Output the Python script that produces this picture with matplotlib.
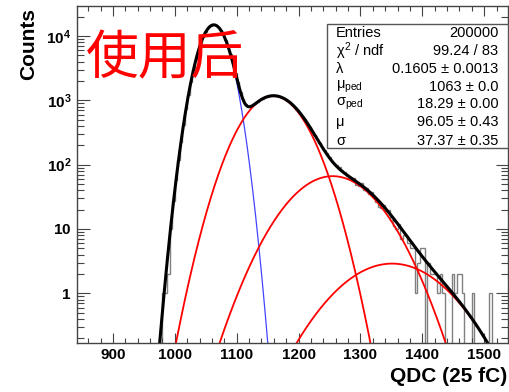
import numpy as np
import matplotlib
matplotlib.use('Agg')
import matplotlib.pyplot as plt
from math import factorial
from matplotlib.ticker import FixedLocator, FuncFormatter, LogLocator, NullFormatter

plt.rcParams['font.family'] = ['Liberation Sans', 'DejaVu Sans']
plt.rcParams['mathtext.fontset'] = 'custom'
plt.rcParams['mathtext.rm'] = 'Liberation Sans'
plt.rcParams['mathtext.it'] = 'Liberation Sans'
plt.rcParams['mathtext.bf'] = 'Liberation Sans:bold'

# fit parameters from the stats box
entries = 200000
lam = 0.1605
mu_ped = 1063.0
sig_ped = 18.29
mu = 96.05
sig = 37.37

# histogram: 4-channel bins starting at 980
bin_w = 4.0
hist_lo = 980.0
counts = [
    1, 1, 2, 10, 27, 57, 116, 224, 411, 721,
    1206, 1923, 2922, 4233, 5846, 7697, 9661, 11561, 13190, 14347,
    14880, 14716, 13881, 12491, 10729, 8804, 6914, 5211, 3791, 2690,
    1895, 1365, 1042, 871, 803, 799, 832, 885, 945, 1005,
    1060, 1107, 1143, 1168, 1179, 1178, 1164, 1137, 1098, 1050,
    992, 928, 860, 788, 715, 643, 574, 507, 445, 389,
    337, 292, 252, 218, 189, 170, 151, 130, 109, 104,
    97, 91, 84, 78, 66, 63, 60, 61, 48, 46,
    52, 41, 43, 35, 37, 33, 26, 22, 21, 24,
    19, 20, 14, 11, 10, 12, 7, 8, 8, 6,
    5, 5, 1, 3, 5, 5, 0, 3, 2, 2,
    2, 1, 2, 1, 0, 0, 0, 2, 1, 2,
    2, 1, 0, 0, 0, 1, 0, 0, 0, 0,
    0, 0, 1,
]

stat_names = ['Entries', r'$\chi^{2}$ / ndf', 'λ', r'$\mu_{\rm ped}$', r'$\sigma_{\rm ped}$', 'μ', 'σ']
stat_vals = ['200000', '99.24 / 83', '0.1605 ± 0.0013', '1063 ± 0.0', '18.29 ± 0.00', '96.05 ± 0.43', '37.37 ± 0.35']


def component(x, n):
    # n-photoelectron term of the fit function, in counts per bin
    p = np.exp(-lam) * lam ** n / factorial(n)
    m = mu_ped + n * mu
    s = sig_ped if n == 0 else np.sqrt(n) * sig
    return entries * bin_w * p * np.exp(-0.5 * ((x - m) / s) ** 2) / (np.sqrt(2 * np.pi) * s)


counts = np.array(counts, dtype=float)
edges = hist_lo + bin_w * np.arange(len(counts) + 1)

fig = plt.figure(figsize=(5.1, 3.92), dpi=100)
ax = fig.add_axes([0.151, 0.1258, 0.8445, 0.8597])

ax.stairs(np.maximum(counts, 1e-3), edges, color='#808080', lw=1.0)

xx = np.linspace(940, 1560, 1200)
ax.plot(xx, component(xx, 0), color='#4444ff', lw=0.9)
for n in (1, 2, 3):
    ax.plot(xx, component(xx, n), color='red', lw=1.3)
xt = xx[xx <= 1505]
ax.plot(xt, sum(component(xt, n) for n in range(4)), color='black', lw=2.2)

ax.set_yscale('log')
ax.set_xlim(842, 1538)
ax.set_ylim(0.1706, 2.96e4)

ax.xaxis.set_major_locator(FixedLocator(np.arange(900, 1501, 100)))
ax.xaxis.set_minor_locator(FixedLocator(np.arange(860, 1540, 20)))
ax.yaxis.set_major_locator(LogLocator(base=10, numticks=10))
ax.yaxis.set_minor_locator(LogLocator(base=10, subs=np.arange(2, 10), numticks=20))
ax.yaxis.set_minor_formatter(NullFormatter())


def ylab(v, pos):
    e = int(round(np.log10(v)))
    if e == 0:
        return r'$\mathbf{1}$'
    if e == 1:
        return r'$\mathbf{10}$'
    return r'$\mathbf{10^{%d}}$' % e


ax.yaxis.set_major_formatter(FuncFormatter(ylab))
ax.tick_params(axis='both', which='both', direction='in', top=True, right=True, width=0.8, color='#444444')
ax.tick_params(axis='x', which='major', length=7, pad=4, labelsize=11)
ax.tick_params(axis='x', which='minor', length=3.5)
ax.tick_params(axis='y', which='major', length=9, pad=4, labelsize=11)
ax.tick_params(axis='y', which='minor', length=4.8)
for lbl in ax.get_xticklabels():
    lbl.set_fontweight('bold')
for sp in ax.spines.values():
    sp.set_color('#444444')
    sp.set_linewidth(1.0)

fig.text(29 / 510, 1 - 8 / 392, 'Counts', rotation=90, ha='center', va='top', fontsize=15, fontweight='bold')
fig.text(507 / 510, 1 - 376 / 392, 'QDC (25 fC)', ha='right', va='center', fontsize=15, fontweight='bold')

fig.text(165 / 510, 1 - 59 / 392, '使用后', ha='center', va='center', fontsize=38, color='red',
         family=['Noto Sans CJK SC', 'DejaVu Sans'])

box = plt.Rectangle((327 / 510, 1 - 148.3 / 392), 180.5 / 510, 124.3 / 392, transform=fig.transFigure,
                    facecolor='white', edgecolor='#555555', lw=1.0, zorder=5)
fig.patches.append(box)
row_y = [33.3, 51, 69, 86.7, 104.3, 122, 140.7]
for name, val, y in zip(stat_names, stat_vals, row_y):
    fig.text(336 / 510, 1 - y / 392, name, ha='left', va='center', fontsize=10.5, zorder=6)
    fig.text(498.3 / 510, 1 - y / 392, val, ha='right', va='center', fontsize=10.5, zorder=6)

fig.savefig('out.png', dpi=100)
